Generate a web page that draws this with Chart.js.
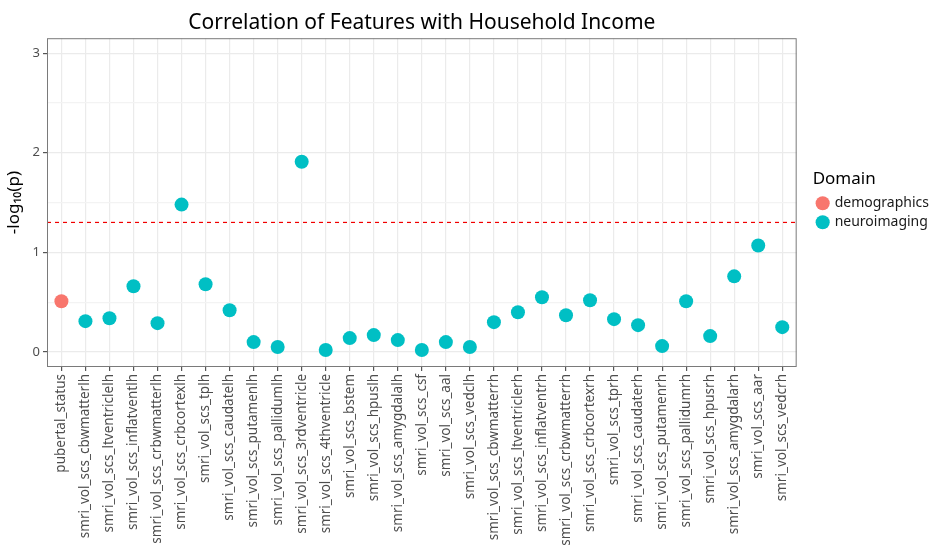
<!DOCTYPE html>
<html>
<head>
<meta charset="utf-8">
<script src="https://cdn.jsdelivr.net/npm/chart.js@4"></script>
<style>
  body { margin: 0; background: #fff; }
  #wrap { width: 933px; height: 548px; position: relative; }
</style>
</head>
<body>
<div id="wrap"><canvas id="grafico"></canvas></div>
<script>
// datos del grafico
const features = [
    "pubertal_status",
    "smri_vol_scs_cbwmatterlh",
    "smri_vol_scs_ltventriclelh",
    "smri_vol_scs_inflatventlh",
    "smri_vol_scs_crbwmatterlh",
    "smri_vol_scs_crbcortexlh",
    "smri_vol_scs_tplh",
    "smri_vol_scs_caudatelh",
    "smri_vol_scs_putamenlh",
    "smri_vol_scs_pallidumlh",
    "smri_vol_scs_3rdventricle",
    "smri_vol_scs_4thventricle",
    "smri_vol_scs_bstem",
    "smri_vol_scs_hpuslh",
    "smri_vol_scs_amygdalalh",
    "smri_vol_scs_csf",
    "smri_vol_scs_aal",
    "smri_vol_scs_vedclh",
    "smri_vol_scs_cbwmatterrh",
    "smri_vol_scs_ltventriclerh",
    "smri_vol_scs_inflatventrh",
    "smri_vol_scs_crbwmatterrh",
    "smri_vol_scs_crbcortexrh",
    "smri_vol_scs_tprh",
    "smri_vol_scs_caudaterh",
    "smri_vol_scs_putamenrh",
    "smri_vol_scs_pallidumrh",
    "smri_vol_scs_hpusrh",
    "smri_vol_scs_amygdalarh",
    "smri_vol_scs_aar",
    "smri_vol_scs_vedcrh"
];

const logP = [
    0.51, 0.31, 0.34, 0.66, 0.29, 1.48, 0.68, 0.42, 0.10, 0.05,
    1.91, 0.02, 0.14, 0.17, 0.12, 0.02, 0.10, 0.05, 0.30, 0.40,
    0.55, 0.37, 0.52, 0.33, 0.27, 0.06, 0.51, 0.16, 0.76, 1.07,
    0.25
];

const domain = ["demographics"].concat(Array(30).fill("neuroimaging"));

const domains = ["demographics", "neuroimaging"];
const colores = ["#F8766D", "#00BFC4"];
const umbral = 1.301; // -log10(0.05)

const fuente = "'Noto Sans', 'Open Sans', sans-serif";

// un dataset por dominio
let datasets = domains.map((d, k) => ({
    type: 'scatter',
    label: d,
    data: features.map((f, i) => ({ x: i, y: logP[i], d: domain[i] })).filter(p => p.d === d),
    backgroundColor: colores[k],
    borderColor: colores[k],
    pointBackgroundColor: colores[k],
    pointBorderWidth: 0,
    pointRadius: 7,
    pointHoverRadius: 7,
    pointHoverBorderWidth: 0
}));

// linea de umbral
datasets.push({
    type: 'line',
    label: 'umbral',
    data: [{ x: -0.6, y: umbral }, { x: features.length - 0.4, y: umbral }],
    borderColor: '#F00000',
    borderWidth: 1.2,
    borderDash: [4, 4],
    pointRadius: 0,
    fill: false
});

// borde del panel
const bordePanel = {
    id: 'bordePanel',
    afterDraw(chart) {
        const a = chart.chartArea;
        const c = chart.ctx;
        c.save();
        c.strokeStyle = '#7a7a7a';
        c.lineWidth = 1;
        c.strokeRect(a.left + 0.5, a.top + 0.5, a.right - a.left - 1, a.bottom - a.top - 1);
        c.restore();
    }
};

// separa la leyenda del panel
const moverLeyenda = {
    id: 'moverLeyenda',
    afterLayout(chart) {
        const lg = chart.legend;
        lg.left += 16;
        lg.right += 16;
    }
};

const ctx = document.getElementById('grafico').getContext('2d');

new Chart(ctx, {
    data: { datasets },
    options: {
        responsive: true,
        maintainAspectRatio: false,
        animation: false,
        layout: { padding: { top: 2, right: 10, left: 4 } },
        scales: {
            x: {
                type: 'linear',
                min: -0.6,
                max: features.length - 0.4,
                afterBuildTicks: s => { s.ticks = features.map((f, i) => ({ value: i })); },
                afterFit: s => { s.height = 181; },
                ticks: {
                    autoSkip: false,
                    maxRotation: 90,
                    minRotation: 90,
                    padding: 3,
                    color: '#4D4D4D',
                    font: { family: fuente, size: 13.5 },
                    callback: v => features[v]
                },
                grid: { color: '#EBEBEB', tickColor: '#555', tickLength: 4, lineWidth: 1.2 },
                border: { display: false }
            },
            y: {
                min: -0.15,
                max: 3.15,
                afterBuildTicks: s => {
                    s.ticks = [0, 0.5, 1, 1.5, 2, 2.5, 3].map(v => ({ value: v }));
                },
                afterFit: s => { s.width = 43; },
                ticks: {
                    color: '#4D4D4D',
                    padding: 3,
                    font: { family: fuente, size: 13 },
                    callback: v => Number.isInteger(v) ? String(v) : ''
                },
                title: {
                    display: true,
                    text: '-log\u2081\u2080(p)',
                    color: '#000',
                    padding: 0,
                    font: { family: fuente, size: 17 }
                },
                grid: {
                    color: c => Number.isInteger(c.tick.value) ? '#EBEBEB' : '#F3F3F3',
                    tickColor: c => Number.isInteger(c.tick.value) ? '#555' : 'rgba(0,0,0,0)',
                    tickLength: 4,
                    lineWidth: 1.2
                },
                border: { display: false }
            }
        },
        plugins: {
            title: {
                display: true,
                fullSize: false,
                text: 'Correlation of Features with Household Income',
                color: '#000',
                font: { family: fuente, size: 21, weight: 'normal' },
                padding: { top: 8, bottom: 3 }
            },
            legend: {
                position: 'right',
                align: 'center',
                fullSize: false,
                title: {
                    display: true,
                    position: 'start',
                    text: 'Domain',
                    color: '#000',
                    font: { family: fuente, size: 17 },
                    padding: { top: 0, bottom: 0 }
                },
                labels: {
                    usePointStyle: true,
                    pointStyle: 'circle',
                    boxWidth: 10,
                    boxHeight: 10,
                    color: '#1a1a1a',
                    padding: 5,
                    font: { family: fuente, size: 14 },
                    filter: item => item.text !== 'umbral'
                }
            },
            tooltip: { enabled: false }
        }
    },
    plugins: [bordePanel, moverLeyenda]
});
</script>
</body>
</html>
